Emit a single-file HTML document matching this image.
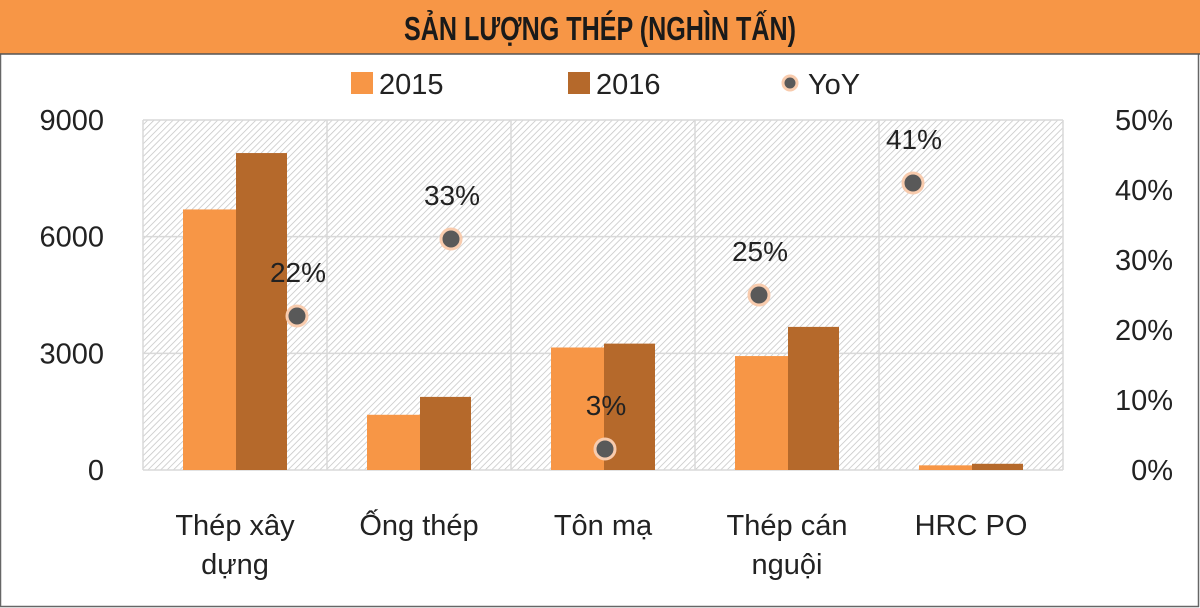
<!DOCTYPE html>
<html><head><meta charset="utf-8">
<style>
html,body{margin:0;padding:0;background:#fff;}
#wrap{position:relative;width:1200px;height:608px;overflow:hidden;background:#fff;}
svg text{font-family:"Liberation Sans",sans-serif;}
</style></head>
<body>
<div id="wrap">
<svg id="chart" width="1200" height="608" viewBox="0 0 1200 608">
<defs>
<pattern id="hatch" patternUnits="userSpaceOnUse" width="4.5" height="4.5" patternTransform="rotate(45)">
<rect width="4.5" height="4.5" fill="#fff"/>
<line x1="0" y1="0" x2="0" y2="4.5" stroke="#c4c4c4" stroke-width="1.5"/>
</pattern>
</defs>
<rect x="0.5" y="0.5" width="1198" height="606" fill="#fff" stroke="#666" stroke-width="1.5"/>
<rect x="0" y="0" width="1200" height="54" fill="#F79646"/>
<line x1="0" y1="54" x2="1200" y2="54" stroke="#555" stroke-width="1.5"/>
<text x="600" y="40" text-anchor="middle" font-size="33" font-weight="bold" fill="#1a1a1a" style="font-family:'Liberation Sans Narrow','Liberation Sans',sans-serif" textLength="392" lengthAdjust="spacingAndGlyphs">SẢN LƯỢNG THÉP (NGHÌN TẤN)</text>
<g>
<g><rect x="351" y="72" width="22" height="22" fill="#F79646"/><text x="379" y="94" font-size="29" fill="#222">2015</text></g>
<g><rect x="568" y="72" width="22" height="22" fill="#B5692B"/><text x="596" y="94" font-size="29" fill="#222">2016</text></g>
<g><circle cx="790" cy="83" r="7" fill="#595959" stroke="#F8CBAD" stroke-width="3"/><text x="808" y="94" font-size="29" fill="#222">YoY</text></g>
</g>
<rect x="143" y="120" width="920" height="350" fill="url(#hatch)"/>
<g id="grid"></g>
<g id="bars"></g>
<g id="points"></g>
<g id="axes"></g>
</svg>
</div>
<script>
const categories = ["Thép xây dựng","Ống thép","Tôn mạ","Thép cán nguội","HRC PO"];
const catLines = [["Thép xây","dựng"],["Ống thép"],["Tôn mạ"],["Thép cán","nguội"],["HRC PO"]];
const values2015 = [6700,1420,3150,2930,120];
const values2016 = [8150,1880,3250,3680,160];
const yoyValues = [0.22,0.33,0.03,0.25,0.41];
const yoyLabels = ["22%","33%","3%","25%","41%"];
const leftTicks = [0,3000,6000,9000];
const rightTicks = [0,0.1,0.2,0.3,0.4,0.5];
const rightTickLabels = ["0%","10%","20%","30%","40%","50%"];

const NS="http://www.w3.org/2000/svg";
const X0=143, X1=1063, Y0=470, Y1=120;
const catW=(X1-X0)/categories.length;
function yLeft(v){return Y0-(v/9000)*(Y0-Y1);}
function yRight(v){return Y0-(v/0.5)*(Y0-Y1);}
function xCat(i){return X0+catW*i;}
function xPoint(i){return 297+154*i;}
function mk(tag,attrs,parent){const e=document.createElementNS(NS,tag);for(const k in attrs)e.setAttribute(k,attrs[k]);parent.appendChild(e);return e;}

const grid=document.getElementById('grid');
leftTicks.forEach(t=>{const l=mk('line',{x1:X0,x2:X1,y1:yLeft(t),y2:yLeft(t),stroke:'#d9d9d9','stroke-width':1.5},grid);

});
for(let i=1;i<categories.length;i++){const l=mk('line',{x1:xCat(i),x2:xCat(i),y1:Y1,y2:Y0,stroke:'#d9d9d9','stroke-width':1.5},grid);

}
mk('line',{x1:X0,x2:X0,y1:Y1,y2:Y0,stroke:'#d9d9d9','stroke-width':1.5},grid);
mk('line',{x1:X1,x2:X1,y1:Y1,y2:Y0,stroke:'#d9d9d9','stroke-width':1.5},grid);

const bars=document.getElementById('bars');
const bw=53, off=40;
categories.forEach((c,i)=>{
 const a=mk('rect',{x:xCat(i)+off,y:yLeft(values2015[i]),width:bw,height:Y0-yLeft(values2015[i]),fill:'#F79646'},bars);
 
 
 const b=mk('rect',{x:xCat(i)+off+bw,y:yLeft(values2016[i]),width:bw-2,height:Y0-yLeft(values2016[i]),fill:'#B5692B'},bars);
 
 
});

const pts=document.getElementById('points');
yoyValues.forEach((v,i)=>{
 const p=mk('circle',{cx:xPoint(i),cy:yRight(v),r:10,fill:'#595959',stroke:'#F8CBAD','stroke-width':3},pts);
 
 
 const t=mk('text',{x:xPoint(i)+1,y:yRight(v)-34,'text-anchor':'middle','font-size':28,fill:'#222'},pts);
 t.textContent=yoyLabels[i];
 
 
});

const axes=document.getElementById('axes');
leftTicks.forEach(t=>{const e=mk('text',{x:104,y:yLeft(t)+10,'text-anchor':'end','font-size':29,fill:'#222'},axes);
 e.textContent=String(t);
 
 });
rightTicks.forEach((t,i)=>{const e=mk('text',{x:1173,y:yRight(t)+10,'text-anchor':'end','font-size':29,fill:'#222'},axes);
 e.textContent=rightTickLabels[i];
 
 });
catLines.forEach((lines,i)=>{
 lines.forEach((ln,j)=>{const e=mk('text',{x:xCat(i)+catW/2,y:535+j*39,'text-anchor':'middle','font-size':29,fill:'#222'},axes);
 e.textContent=ln;
 
 });
});
</script>
</body></html>
